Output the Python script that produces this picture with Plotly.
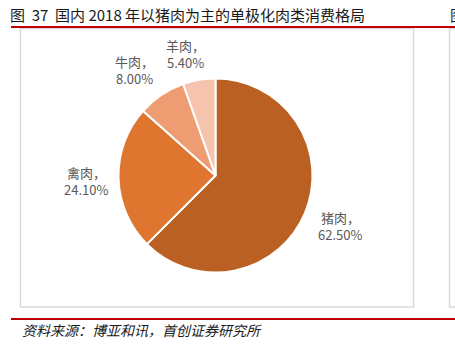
import plotly.graph_objects as go

categories = ["猪肉", "禽肉", "牛肉", "羊肉"]
shares = [62.5, 24.1, 8.0, 5.4]
colors = ["#B96022", "#DE762F", "#EE9C72", "#F5C3AE"]
label_pos = [(340, 226), (86, 181), (134, 70), (185, 54)]  # pixel positions of labels

W, H = 455, 347
cx, cy, r = 215.5, 175.5, 97

def px(x):
    return x / W

def py(y):
    return 1 - y / H

fig = go.Figure()
fig.add_trace(go.Pie(
    labels=categories, values=shares, sort=False, direction="clockwise", rotation=0,
    marker=dict(colors=colors, line=dict(color="white", width=2)),
    textinfo="none", hoverinfo="label+percent", showlegend=False,
    domain=dict(x=[px(cx - r), px(cx + r)], y=[py(cy + r), py(cy - r)]),
))

annotations = []
lab_font = dict(family="Noto Sans CJK SC, sans-serif", size=13, color="#595959")
for cat, v, (x, y) in zip(categories, shares, label_pos):
    annotations.append(dict(
        x=px(x), y=py(y - 8.5), xref="paper", yref="paper", showarrow=False,
        text=f"{cat}，", font=lab_font, xanchor="center", yanchor="middle",
    ))
    annotations.append(dict(
        x=px(x), y=py(y + 8.5), xref="paper", yref="paper", showarrow=False,
        text=f"{v:.2f}%", font=lab_font, xanchor="center", yanchor="middle",
    ))

annotations.append(dict(
    x=px(8), y=py(14), xref="paper", yref="paper", showarrow=False, xanchor="left", yanchor="middle",
    text="图  37  国内 2018 年以猪肉为主的单极化肉类消费格局",
    font=dict(family="Noto Sans CJK SC, serif", size=15, color="#1a1a1a"),
))
annotations.append(dict(
    x=px(448), y=py(14), xref="paper", yref="paper", showarrow=False, xanchor="left", yanchor="middle",
    text="图", font=dict(family="Noto Sans CJK SC", size=15, color="#1a1a1a"),
))
annotations.append(dict(
    x=px(20), y=py(330), xref="paper", yref="paper", showarrow=False, xanchor="left", yanchor="middle",
    text="<i>资料来源：博亚和讯，首创证券研究所</i>",
    font=dict(family="Noto Sans CJK SC", size=14, color="#1a1a1a"),
))

shapes = [
    dict(type="rect", xref="paper", yref="paper", x0=px(20.5), x1=px(413.5), y0=py(307), y1=py(28.5),
         line=dict(color="#D9D9D9", width=1.5), fillcolor="rgba(0,0,0,0)", layer="below"),
    dict(type="rect", xref="paper", yref="paper", x0=px(449.5), x1=px(470), y0=py(307), y1=py(28.5),
         line=dict(color="#D9D9D9", width=1.5), fillcolor="rgba(0,0,0,0)", layer="below"),
    dict(type="line", xref="paper", yref="paper", x0=px(11), x1=1, y0=py(27), y1=py(27),
         line=dict(color="#C00000", width=2)),
    dict(type="line", xref="paper", yref="paper", x0=px(11), x1=1, y0=py(319), y1=py(319),
         line=dict(color="#C00000", width=2)),
]

fig.update_layout(
    width=W, height=H, margin=dict(l=0, r=0, t=0, b=0),
    paper_bgcolor="white", plot_bgcolor="white",
    annotations=annotations, shapes=shapes,
)
fig.write_html("out.html")
